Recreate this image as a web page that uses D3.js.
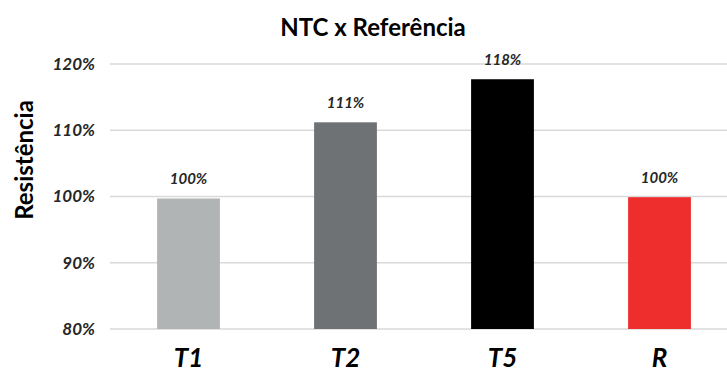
<!DOCTYPE html>
<html><head><meta charset="utf-8">
<script src="https://cdn.jsdelivr.net/npm/d3@7"></script>
<style>body{margin:0;background:#fff}svg{display:block}</style>
</head><body>
<svg id="chart" width="727" height="374"></svg>
<script>
const categories = ["T1", "T2", "T5", "R"];
const values = [99.7, 111.2, 117.7, 99.9];
const valueLabels = ["100%", "111%", "118%", "100%"];
const barColors = ["#b1b4b4", "#6f7275", "#000000", "#ee2d2d"];
const yTicks = [80, 90, 100, 110, 120];

const svg = d3.select("#chart");
const font = "Lato, 'Open Sans', sans-serif";

const x = d3.scaleBand().domain(categories).range([110, 738]).paddingInner(0.6).paddingOuter(0.3);
const y = d3.scaleLinear().domain([80, 120]).range([329, 64]);

// gridlines
svg.append("g").selectAll("line").data(yTicks).join("line")
  .attr("x1", 110).attr("x2", 727)
  .attr("y1", d => y(d)).attr("y2", d => y(d))
  .attr("stroke", "#d9d9d9").attr("stroke-width", 1.3);

// y tick labels
svg.append("g").selectAll("text").data(yTicks).join("text")
  .attr("x", 95).attr("y", d => y(d)).attr("dy", "0.35em")
  .attr("text-anchor", "end")
  .attr("font-family", font).attr("font-weight", "bold").attr("font-style", "italic")
  .attr("font-size", 17).attr("fill", "#262626")
  .text(d => d + "%");

// bars
svg.append("g").selectAll("rect").data(categories).join("rect")
  .attr("x", d => x(d)).attr("width", x.bandwidth())
  .attr("y", (d, i) => y(values[i])).attr("height", (d, i) => y(80) - y(values[i]))
  .attr("fill", (d, i) => barColors[i]);

// value labels
svg.append("g").selectAll("text").data(categories).join("text")
  .attr("x", d => x(d) + x.bandwidth() / 2)
  .attr("y", (d, i) => y(values[i]) - 14)
  .attr("text-anchor", "middle")
  .attr("font-family", font).attr("font-weight", "bold").attr("font-style", "italic")
  .attr("font-size", 15).attr("fill", "#262626")
  .text((d, i) => valueLabels[i]);

// x labels
svg.append("g").selectAll("text").data(categories).join("text")
  .attr("x", d => x(d) + x.bandwidth() / 2)
  .attr("y", 367)
  .attr("text-anchor", "middle")
  .attr("font-family", font).attr("font-weight", "bold").attr("font-style", "italic")
  .attr("font-size", 26).attr("fill", "#000")
  .text(d => d);

// title
svg.append("text").attr("x", 373).attr("y", 36).attr("text-anchor", "middle")
  .attr("font-family", font).attr("font-weight", "bold").attr("font-size", 24).attr("fill", "#000")
  .text("NTC x Referência");

// y axis title
svg.append("text").attr("transform", "translate(33,160) rotate(-90)").attr("text-anchor", "middle")
  .attr("font-family", font).attr("font-weight", "bold").attr("font-size", 24).attr("fill", "#000")
  .text("Resistência");
</script>
</body></html>
